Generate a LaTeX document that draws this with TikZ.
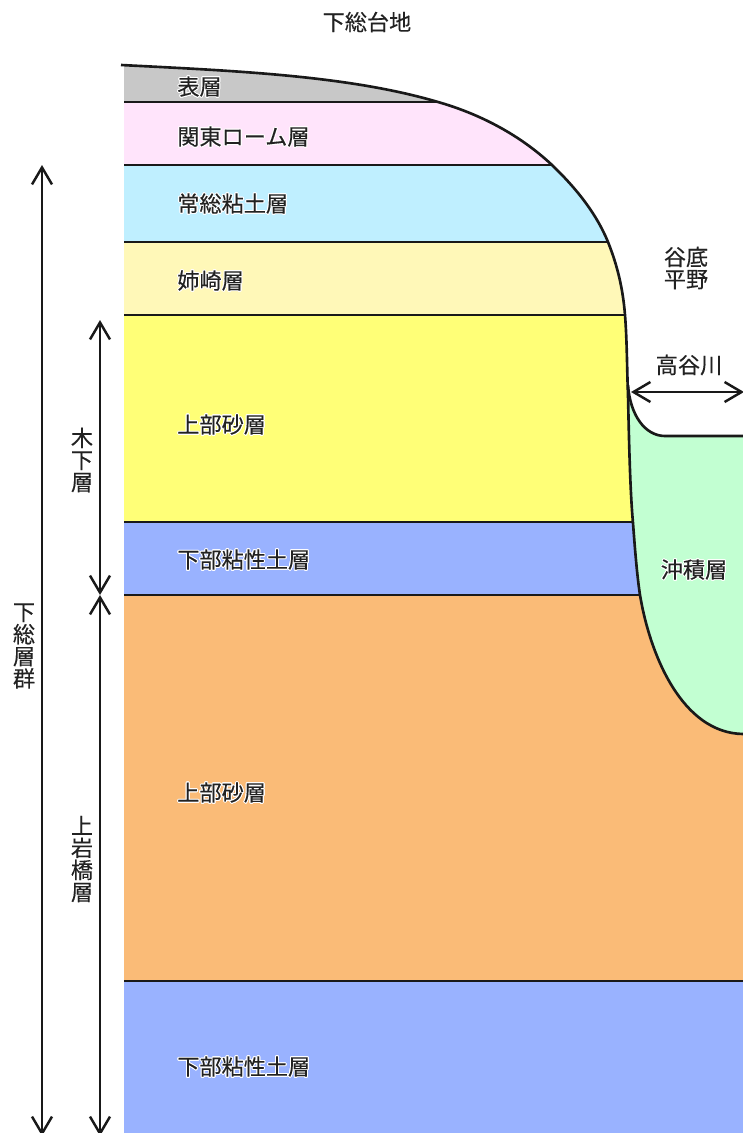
\documentclass[tikz,border=0pt]{standalone}
\usepackage{fontspec}
\usepackage{contour}
\setmainfont{Noto Sans CJK JP}
\usetikzlibrary{arrows.meta}
\contourlength{0.55pt}
\definecolor{topcolor}{HTML}{C8C8C8}
\definecolor{loamcolor}{HTML}{FFE4FB}
\definecolor{claycolor}{HTML}{BFEFFF}
\definecolor{anecolor}{HTML}{FFF8B8}
\definecolor{sandcolor}{HTML}{FFFF77}
\definecolor{siltcolor}{HTML}{99B2FF}
\definecolor{lowercolor}{HTML}{FABB77}
\definecolor{alluvcolor}{HTML}{C2FFD2}
\definecolor{inkcolor}{HTML}{222222}
\newcommand{\labelfont}{\fontsize{12.6}{12.6}\selectfont\addfontfeatures{FakeBold=0.25}}
\newcommand{\halo}[1]{\contour{white}{#1}}
\tikzset{
	labelstyle/.style={inner sep=0pt,text=inkcolor,font=\labelfont},
	layerstyle/.style={labelstyle,anchor=west},
	stackstyle/.style={labelstyle,align=center},
	boundstyle/.style={line width=1.5pt,draw=black!90},
	spanstyle/.style={line width=1.4pt,draw=black!90,{Straight Barb[length=3.4mm,width=4mm]}-{Straight Barb[length=3.4mm,width=4mm]}}
}
\newcommand{\hillside}{(121,65) .. controls (240,71) and (350,76) .. (438,102)
	.. controls (480,114) and (520,135) .. (552,165)
	.. controls (578,190) and (597,215) .. (608,242)
	.. controls (618,267) and (623,290) .. (625,315)
	.. controls (627,340) and (627,370) .. (628,395)
	.. controls (629,440) and (630,490) .. (633,523)
	.. controls (635,550) and (637,575) .. (640,595)
	.. controls (650,655) and (682,733) .. (743,734)}
\begin{document}
\begin{tikzpicture}[x=0.02cm,y=-0.02cm]
		\useasboundingbox (0,0) rectangle (743,1133);
		% layers, cut off along the valley side
		\begin{scope}
			\clip \hillside -- (743,1133) -- (124,1133) -- (124,65) -- cycle;
			\fill[topcolor] (124,60) rectangle (743,102);
			\fill[loamcolor] (124,102) rectangle (743,165);
			\fill[claycolor] (124,165) rectangle (743,242);
			\fill[anecolor] (124,242) rectangle (743,315);
			\fill[sandcolor] (124,315) rectangle (743,522);
			\fill[siltcolor] (124,522) rectangle (743,595);
			\fill[lowercolor] (124,595) rectangle (743,981);
			\fill[siltcolor] (124,981) rectangle (743,1133);
			\foreach \y in {102,165,242,315,522,595,981}
				\draw[boundstyle] (124,\y) -- (743,\y);
		\end{scope}
		% valley fill
		\fill[alluvcolor] (628,385) .. controls (630,415) and (645,436) .. (665,436) -- (743,436) -- (743,734)
			.. controls (682,733) and (650,655) .. (640,595)
			.. controls (637,575) and (635,550) .. (633,523)
			.. controls (630,490) and (629,440) .. (628,395) -- cycle;
		\draw[boundstyle] \hillside;
		\draw[boundstyle] (628,385) .. controls (630,415) and (645,436) .. (665,436) -- (743,436);
		% spans
		\coordinate (gt) at (42,165);
		\coordinate (gb) at (42,1136);
		\coordinate (kt) at (100,320);
		\coordinate (kb) at (100,595);
		\coordinate (ut) at (100,595);
		\coordinate (ub) at (100,1136);
		\coordinate (rl) at (631,392);
		\coordinate (rr) at (744,392);
		\draw[spanstyle] (gt)--(gb);
		\draw[spanstyle] (kt)--(kb);
		\draw[spanstyle] (ut)--(ub);
		\draw[spanstyle] (rl)--(rr);
		% labels
		\node[labelstyle] (plateau) at (367,22) {下総台地};
		\node[layerstyle] (top) at (177,87) {\halo{表層}};
		\node[layerstyle] (loam) at (177,137) {\halo{関東ローム層}};
		\node[layerstyle] (clay) at (177,204) {\halo{常総粘土層}};
		\node[layerstyle] (ane) at (177,281) {\halo{姉崎層}};
		\node[layerstyle] (sanda) at (177,425) {\halo{上部砂層}};
		\node[layerstyle] (silta) at (177,560) {\halo{下部粘性土層}};
		\node[layerstyle] (sandb) at (177,793) {\halo{上部砂層}};
		\node[layerstyle] (siltb) at (177,1067) {\halo{下部粘性土層}};
		\node[stackstyle] (plain) at (686,268) {谷底\\平野};
		\node[labelstyle] (river) at (689,365) {高谷川};
		\node[labelstyle] (alluv) at (694,570) {\halo{沖積層}};
		\node[stackstyle] (group) at (24,646) {下\\総\\層\\群};
		\node[stackstyle] (kioroshi) at (82,460) {木\\下\\層};
		\node[stackstyle] (iwahashi) at (82,859) {上\\岩\\橋\\層};
		\end{tikzpicture}
\end{document}
